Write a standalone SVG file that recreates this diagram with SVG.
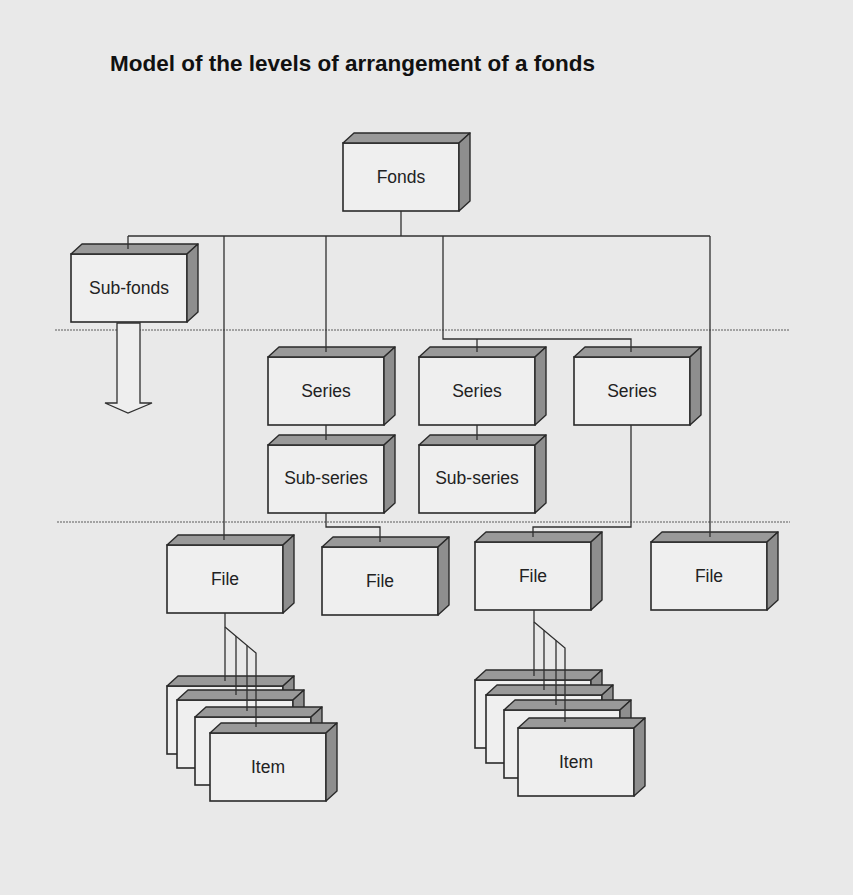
<svg xmlns="http://www.w3.org/2000/svg" xmlns:xlink="http://www.w3.org/1999/xlink" width="853" height="895" viewBox="0 0 853 895">
<style>
.bg{fill:#e9e9e9}
.front{fill:#efefef;stroke:#2a2a2a;stroke-width:1.6}
.top{fill:#999999;stroke:#2a2a2a;stroke-width:1.4;stroke-linejoin:round}
.side{fill:#8e8e8e;stroke:#2a2a2a;stroke-width:1.4;stroke-linejoin:round}
.lbl{font-family:"Liberation Sans",Arial,sans-serif;font-size:17.5px;fill:#222;text-anchor:middle}
.title{font-family:"Liberation Sans",Arial,sans-serif;font-size:22.5px;font-weight:bold;fill:#111}
.conn{fill:none;stroke:#303030;stroke-width:1.3}
.dot{fill:none;stroke:#8a8a8a;stroke-width:1.6;stroke-dasharray:2 1}
.arrow{fill:#eeeeee;stroke:#303030;stroke-width:1.3;stroke-linejoin:miter}
</style>
<defs>
<g id="box">
<rect class="front" x="0" y="0" width="116" height="68"/>
<polygon class="top" points="0,0 11,-10 127,-10 116,0"/>
<polygon class="side" points="116,0 127,-10 127,58 116,68"/>
</g>
</defs>
<rect class="bg" x="0" y="0" width="853" height="895"/>
<text class="title" x="110" y="71">Model of the levels of arrangement of a fonds</text>

<g id="level-lines">
<line class="dot" x1="55" y1="330" x2="790" y2="330"/>
<line class="dot" x1="57" y1="522" x2="790" y2="522"/>
</g>

<g id="fonds"><use xlink:href="#box" x="343" y="143"/><text class="lbl" x="401" y="183">Fonds</text></g>
<g id="sub-fonds"><use xlink:href="#box" x="71" y="254"/><text class="lbl" x="129" y="294">Sub-fonds</text>
<polygon class="arrow" points="117,323 117,403 105,403 128,413 152,403 140,403 140,323"/></g>
<g id="series-1"><use xlink:href="#box" x="268" y="357"/><text class="lbl" x="326" y="397">Series</text></g>
<g id="sub-series-1"><use xlink:href="#box" x="268" y="445"/><text class="lbl" x="326" y="484">Sub-series</text></g>
<g id="series-2"><use xlink:href="#box" x="419" y="357"/><text class="lbl" x="477" y="397">Series</text></g>
<g id="sub-series-2"><use xlink:href="#box" x="419" y="445"/><text class="lbl" x="477" y="484">Sub-series</text></g>
<g id="series-3"><use xlink:href="#box" x="574" y="357"/><text class="lbl" x="632" y="397">Series</text></g>
<g id="file-1"><use xlink:href="#box" x="167" y="545"/><text class="lbl" x="225" y="585">File</text></g>
<g id="file-2"><use xlink:href="#box" x="322" y="547"/><text class="lbl" x="380" y="587">File</text></g>
<g id="file-3"><use xlink:href="#box" x="475" y="542"/><text class="lbl" x="533" y="582">File</text></g>
<g id="file-4"><use xlink:href="#box" x="651" y="542"/><text class="lbl" x="709" y="582">File</text></g>

<g id="items-1">
<use xlink:href="#box" x="167" y="686"/>
<use xlink:href="#box" x="177" y="700"/>
<use xlink:href="#box" x="195" y="717"/>
<use xlink:href="#box" x="210" y="733"/>
<text class="lbl" x="268" y="773">Item</text>
</g>
<g id="items-2">
<use xlink:href="#box" x="475" y="680"/>
<use xlink:href="#box" x="486" y="695"/>
<use xlink:href="#box" x="504" y="710"/>
<use xlink:href="#box" x="518" y="728"/>
<text class="lbl" x="576" y="768">Item</text>
</g>

<g id="connectors">
<line class="conn" x1="401" y1="211" x2="401" y2="236"/>
<line class="conn" x1="128" y1="236" x2="710" y2="236"/>
<line class="conn" x1="128" y1="236" x2="128" y2="249"/>
<line class="conn" x1="224" y1="236" x2="224" y2="540"/>
<line class="conn" x1="326" y1="236" x2="326" y2="352"/>
<polyline class="conn" points="443,236 443,339 631,339 631,352"/>
<line class="conn" x1="477" y1="339" x2="477" y2="352"/>
<line class="conn" x1="710" y1="236" x2="710" y2="537"/>
<line class="conn" x1="326" y1="425" x2="326" y2="440"/>
<line class="conn" x1="477" y1="425" x2="477" y2="440"/>
<polyline class="conn" points="326,513 326,527 380,527 380,542"/>
<polyline class="conn" points="631,425 631,527 533,527 533,537"/>
<line class="conn" x1="225" y1="613" x2="225" y2="681"/>
<polyline class="conn" points="225,627 256,653 256,727"/>
<line class="conn" x1="236" y1="636" x2="236" y2="695"/>
<line class="conn" x1="247" y1="645.5" x2="247" y2="711"/>
<line class="conn" x1="534" y1="610" x2="534" y2="676"/>
<polyline class="conn" points="534,622 565,648 565,722"/>
<line class="conn" x1="544" y1="630.4" x2="544" y2="690"/>
<line class="conn" x1="556" y1="640.5" x2="556" y2="705"/>
</g>
</svg>
